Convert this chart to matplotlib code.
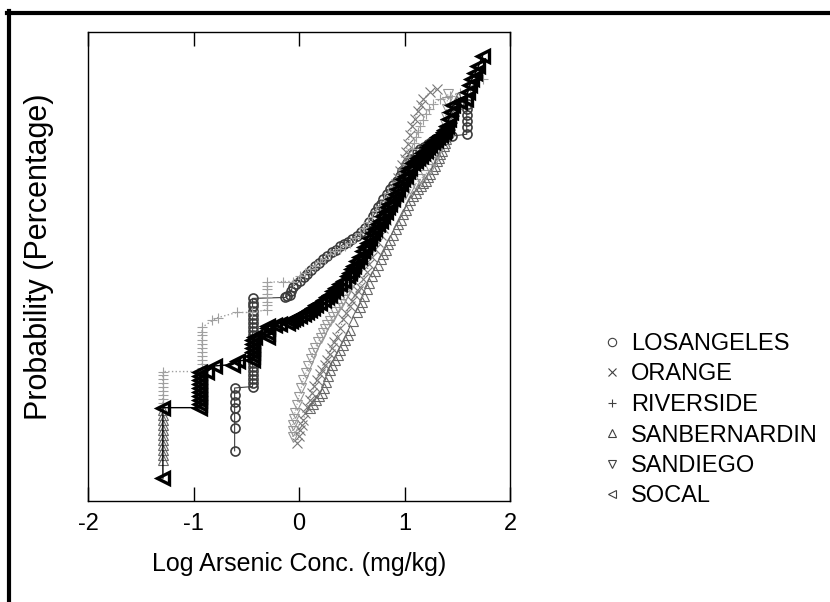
import matplotlib
matplotlib.use("Agg")
import matplotlib.pyplot as plt
from matplotlib.lines import Line2D

plt.rcParams['font.family'] = ['Liberation Sans', 'DejaVu Sans']

# Data: (log10 arsenic concentration, cumulative probability position)
losangeles_pts = [
    (-0.61, 10.7), (-0.61, 15.6), (-0.61, 17.9), (-0.61, 19.9), (-0.61, 21.2), (-0.61, 22.6), (-0.61, 24.1),
    (-0.44, 24.4), (-0.44, 25.2), (-0.44, 26.1), (-0.44, 26.9), (-0.44, 27.8), (-0.44, 28.6), (-0.44, 29.5),
    (-0.44, 30.3), (-0.44, 31.2), (-0.44, 32.1), (-0.44, 32.9), (-0.44, 33.8), (-0.44, 34.6), (-0.44, 35.5),
    (-0.44, 36.3), (-0.44, 37.2), (-0.44, 38.0), (-0.44, 38.9), (-0.44, 39.7), (-0.44, 40.6), (-0.44, 41.5),
    (-0.44, 42.3), (-0.44, 43.2),
    (-0.13, 43.4), (-0.09, 44.0), (-0.06, 45.7), (0.01, 47.0), (0.08, 48.5), (0.15, 50.0), (0.23, 51.5),
    (0.31, 53.0), (0.39, 54.3), (0.46, 55.3), (0.55, 56.4), (0.63, 58.3), (0.70, 60.7), (0.75, 62.6),
    (0.80, 64.3), (0.86, 66.5), (0.93, 68.2), (0.98, 70.3), (1.02, 72.0), (1.08, 73.9), (1.15, 75.0),
    (1.22, 76.1), (1.29, 77.1), (1.36, 77.8), (1.45, 77.8), (1.59, 78.2), (1.59, 79.7), (1.59, 81.0),
    (1.59, 82.3), (1.59, 83.5), (1.60, 84.6),
    (-0.11, 43.7), (-0.075, 44.8), (-0.025, 46.3), (0.045, 47.7), (0.115, 49.2), (0.19, 50.7), (0.27, 52.2),
    (0.35, 53.6), (0.425, 54.8), (0.505, 55.8), (0.59, 57.3), (0.665, 59.5), (0.725, 61.6), (0.775, 63.4),
    (0.83, 65.4), (0.895, 67.3), (0.955, 69.2), (1.00, 71.1), (1.05, 72.9), (1.115, 74.4), (1.185, 75.5),
    (1.255, 76.6), (1.325, 77.4),
]
orange_pts = [
    (-0.02, 12.4), (0.01, 15.2), (0.04, 17.3), (0.08, 20.1), (0.12, 23.1), (0.17, 25.9), (0.22, 28.0),
    (0.27, 30.1), (0.31, 32.7), (0.36, 35.0), (0.42, 38.7), (0.48, 41.5), (0.53, 44.0), (0.58, 45.7),
    (0.64, 48.9), (0.69, 52.1), (0.75, 55.3), (0.80, 58.3), (0.84, 61.5), (0.88, 64.7), (0.92, 67.5),
    (0.96, 70.3), (1.00, 72.9), (1.03, 76.1), (1.07, 79.9), (1.13, 83.1), (1.18, 85.7), (1.24, 87.2),
    (1.31, 87.8),
    (0.00, 13.8), (0.025, 16.2), (0.06, 18.7), (0.10, 21.6), (0.145, 24.5), (0.195, 27.0), (0.245, 29.0),
    (0.29, 31.4), (0.335, 33.8), (0.39, 36.8), (0.45, 40.1), (0.505, 42.7), (0.555, 44.8), (0.61, 47.3),
    (0.665, 50.5), (0.72, 53.7), (0.775, 56.8), (0.82, 59.9), (0.86, 63.1), (0.90, 66.1), (0.94, 68.9),
    (0.98, 71.6), (1.015, 74.5), (1.05, 78.0), (1.10, 81.5), (1.155, 84.4),
]
riverside_pts = [
    (-1.29, 20.1), (-1.29, 20.9), (-1.29, 21.8), (-1.29, 22.6), (-1.29, 23.5), (-1.29, 24.4), (-1.29, 25.2),
    (-1.29, 26.1), (-1.29, 26.9), (-1.29, 27.6),
    (-0.92, 27.6), (-0.92, 28.4), (-0.92, 29.3), (-0.92, 30.1), (-0.92, 31.0), (-0.92, 31.8), (-0.92, 32.7),
    (-0.92, 33.5), (-0.92, 34.4), (-0.92, 35.3), (-0.92, 36.1), (-0.92, 37.0),
    (-0.82, 38.5), (-0.77, 39.1), (-0.59, 40.2), (-0.45, 40.2),
    (-0.30, 40.8), (-0.30, 41.7), (-0.30, 42.5), (-0.30, 43.4), (-0.30, 44.2), (-0.30, 45.1), (-0.30, 45.9),
    (-0.30, 46.6), (-0.15, 46.8), (-0.06, 46.8),
    (0.01, 47.9), (0.10, 49.4), (0.20, 50.9), (0.29, 52.6), (0.39, 53.8), (0.48, 55.1), (0.58, 57.1),
    (0.65, 59.4), (0.73, 61.8), (0.81, 64.3), (0.88, 66.9), (0.96, 69.4), (1.02, 71.8), (1.07, 75.0),
    (1.11, 77.6), (1.15, 79.9), (1.20, 82.5), (1.27, 84.6), (1.34, 85.7), (1.43, 86.3), (1.53, 87.0),
    (1.62, 88.2), (1.74, 90.0),
    (0.055, 48.6), (0.15, 50.1), (0.245, 51.7), (0.34, 53.2), (0.435, 54.4), (0.53, 56.1), (0.615, 58.2),
    (0.69, 60.6), (0.77, 63.0), (0.845, 65.6), (0.92, 68.1), (0.99, 70.6), (1.045, 73.4), (1.09, 76.3),
    (1.13, 78.7), (1.175, 81.2), (1.235, 83.5),
]
sanbernardin_pts = [
    (-1.29, 8.8), (-1.29, 9.8), (-1.29, 10.9), (-1.29, 12.0), (-1.29, 13.0), (-1.29, 14.1), (-1.29, 15.2),
    (-1.29, 16.2), (-1.29, 17.3), (-1.29, 18.4), (-1.29, 19.4),
    (0.10, 19.9), (0.16, 21.6), (0.22, 23.1), (0.26, 25.4), (0.29, 28.0), (0.34, 30.1), (0.39, 32.3),
    (0.44, 34.4), (0.48, 36.5), (0.55, 40.2), (0.60, 42.5), (0.64, 45.1), (0.69, 47.9), (0.75, 50.4),
    (0.80, 52.6), (0.84, 54.7), (0.89, 56.8), (0.94, 59.0), (0.99, 61.1), (1.03, 63.2), (1.08, 65.0),
    (1.13, 66.5), (1.18, 67.7), (1.22, 69.0), (1.27, 70.7), (1.31, 72.4), (1.34, 73.9), (1.37, 75.6),
    (1.39, 77.1), (1.41, 78.6), (1.43, 80.1), (1.45, 81.6), (1.47, 83.1), (1.49, 84.6), (1.51, 86.1),
    (0.13, 20.7), (0.19, 22.3), (0.24, 24.2), (0.275, 26.7), (0.315, 29.0), (0.365, 31.2), (0.415, 33.3),
    (0.46, 35.4), (0.515, 38.3), (0.575, 41.3), (0.62, 43.8), (0.665, 46.5), (0.72, 49.1), (0.775, 51.5),
    (0.82, 53.6), (0.865, 55.7), (0.915, 57.9), (0.965, 60.0), (1.01, 62.1), (1.055, 64.1), (1.105, 65.7),
    (1.155, 67.1), (1.20, 68.3), (1.245, 69.8), (1.29, 71.5), (1.325, 73.1), (1.355, 74.7), (1.38, 76.3),
    (1.40, 77.8), (1.42, 79.3), (1.44, 80.8), (1.46, 82.3), (1.48, 83.8), (1.50, 85.3),
]
sandiego_pts = [
    (-0.06, 13.7), (-0.06, 16.2), (-0.04, 18.8), (0.00, 22.2), (0.04, 25.9), (0.09, 28.8), (0.13, 31.6),
    (0.18, 33.8), (0.23, 35.9), (0.27, 37.6), (0.32, 39.3), (0.37, 41.2), (0.42, 42.9), (0.46, 44.7),
    (0.51, 46.6), (0.58, 49.4), (0.64, 52.6), (0.72, 55.8), (0.80, 59.0), (0.88, 61.8), (0.96, 64.3),
    (1.05, 66.5), (1.15, 68.6), (1.24, 70.7), (1.31, 73.9), (1.36, 77.1), (1.38, 80.3), (1.40, 83.5),
    (1.41, 86.8),
    (-0.06, 15.0), (-0.05, 17.5), (-0.02, 20.5), (0.02, 24.0), (0.065, 27.3), (0.11, 30.2), (0.155, 32.7),
    (0.205, 34.8), (0.25, 36.7), (0.295, 38.4), (0.345, 40.2), (0.395, 42.0), (0.44, 43.8), (0.485, 45.6),
    (0.545, 48.0), (0.61, 51.0), (0.68, 54.2), (0.76, 57.4), (0.84, 60.4), (0.92, 63.0), (1.00, 65.4),
    (1.10, 67.5), (1.195, 69.6), (1.275, 72.3), (1.335, 75.5), (1.37, 78.7), (1.39, 81.9), (1.405, 85.1),
]
socal_pts = [
    (-1.29, 4.9), (-1.29, 19.9), (-0.94, 19.9), (-0.94, 20.7), (-0.94, 21.6), (-0.94, 22.4), (-0.94, 23.3),
    (-0.94, 24.1), (-0.94, 25.0), (-0.94, 25.9), (-0.94, 26.7), (-0.94, 27.4), (-0.87, 27.6), (-0.80, 28.8),
    (-0.63, 29.1), (-0.58, 29.9), (-0.44, 30.1), (-0.44, 31.0), (-0.44, 31.8), (-0.44, 32.7), (-0.44, 33.5),
    (-0.44, 34.4), (-0.42, 35.0), (-0.29, 35.0), (-0.29, 35.9), (-0.29, 36.8), (-0.29, 37.4), (-0.23, 37.6),
    (-0.18, 37.8), (-0.10, 38.0), (-0.06, 38.7), (0.01, 39.5), (0.08, 40.4), (0.13, 41.2), (0.20, 42.3),
    (0.27, 43.4), (0.32, 44.7), (0.39, 46.2), (0.46, 47.9), (0.50, 49.4), (0.55, 51.1), (0.61, 53.2),
    (0.65, 55.1), (0.70, 57.1), (0.75, 59.0), (0.80, 60.7), (0.84, 62.6), (0.89, 64.3), (0.94, 66.5),
    (0.99, 68.6), (1.03, 70.3), (1.08, 72.0), (1.13, 73.1), (1.18, 74.1), (1.22, 75.4), (1.27, 76.5),
    (1.32, 77.6), (1.37, 78.6), (1.40, 79.9), (1.42, 81.4), (1.44, 82.9), (1.46, 84.4), (1.53, 85.0),
    (1.58, 85.7), (1.60, 87.2), (1.62, 88.7), (1.64, 90.0), (1.67, 91.2), (1.70, 92.7), (1.74, 94.9),
    (-0.08, 38.3), (-0.03, 39.1), (0.045, 39.9), (0.105, 40.8), (0.165, 41.7), (0.235, 42.8), (0.295, 44.0),
    (0.355, 45.4), (0.425, 47.0), (0.48, 48.6), (0.525, 50.2), (0.58, 52.1), (0.63, 54.1), (0.675, 56.1),
    (0.725, 58.0), (0.775, 59.8), (0.82, 61.6), (0.865, 63.4), (0.915, 65.4), (0.965, 67.5), (1.01, 69.4),
    (1.055, 71.1), (1.105, 72.5), (1.155, 73.6), (1.20, 74.7), (1.245, 75.9), (1.295, 77.0), (1.345, 78.1),
    (1.385, 79.2),
]

series_names = ["LOSANGELES", "ORANGE", "RIVERSIDE", "SANBERNARDIN", "SANDIEGO", "SOCAL"]
series_data = [losangeles_pts, orange_pts, riverside_pts, sanbernardin_pts, sandiego_pts, socal_pts]
x_ticks = [-2, -1, 0, 1, 2]

styles = {
    "LOSANGELES":   dict(marker='o', color='#3c3c3c', ls='-',    lw=0.8, ms=6.5, mew=1.2),
    "ORANGE":       dict(marker='x', color='#787878', ls=':',    lw=0.8, ms=6.5, mew=0.8),
    "RIVERSIDE":    dict(marker='+', color='#a0a0a0', ls=':',    lw=1.0, ms=6.5, mew=0.8),
    "SANBERNARDIN": dict(marker='^', color='#686868', ls='none', lw=0.6, ms=7,   mew=0.8),
    "SANDIEGO":     dict(marker='v', color='#969696', ls=':',    lw=0.8, ms=7,   mew=0.8),
    "SOCAL":        dict(marker='<', color='#000000', ls='-',    lw=1.0, ms=8,   mew=2.4),
}

fig = plt.figure(figsize=(8.3, 6.02), dpi=100)
W, H = 830, 602
ax = fig.add_axes([88 / W, 1 - 501 / H, (510 - 88) / W, (501 - 32) / H])

for name, pts in zip(series_names, series_data):
    st = styles[name]
    pts_sorted = sorted(pts, key=lambda p: (p[1], p[0]))
    xs = [p[0] for p in pts_sorted]
    ys = [p[1] for p in pts_sorted]
    ax.plot(xs, ys, linestyle=st['ls'], linewidth=st['lw'], color=st['color'],
            marker=st['marker'], markersize=st['ms'], markeredgewidth=st['mew'],
            markerfacecolor='none', markeredgecolor=st['color'], label=name)

ax.set_xlim(-2, 2)
ax.set_ylim(0, 100)
ax.set_xticks(x_ticks)
ax.set_xticklabels([str(t) for t in x_ticks])
ax.set_yticks([])
ax.tick_params(axis='x', direction='in', length=10, width=1.0, top=True, labeltop=False,
               labelsize=17, pad=9)
for sp in ax.spines.values():
    sp.set_linewidth(1.0)
ax.set_xlabel("Log Arsenic Conc. (mg/kg)", fontsize=18, labelpad=12)
ax.set_ylabel("Probability (Percentage)", fontsize=22)
ax.yaxis.set_label_coords(-0.080, 0.52)

handles = [Line2D([], [], linestyle='none', marker=styles[n]['marker'], markersize=6,
                  markeredgewidth=0.8, markerfacecolor='none', markeredgecolor='#404040')
           for n in series_names]
fig.legend(handles, series_names, loc='upper left', bbox_to_anchor=(606 / W, 1 - 333 / H),
           frameon=False, fontsize=17, handlelength=0.5, handletextpad=0.55,
           labelspacing=0.36, borderaxespad=0, borderpad=0)

# thick frame lines (top and left) of the original figure box
fig.add_artist(Line2D([7 / W, 1.0], [1 - 13 / H, 1 - 13 / H], transform=fig.transFigure,
                      color='black', lw=3))
fig.add_artist(Line2D([9 / W, 9 / W], [0.0, 1 - 11 / H], transform=fig.transFigure,
                      color='black', lw=3))

fig.savefig("out.png", dpi=100)
